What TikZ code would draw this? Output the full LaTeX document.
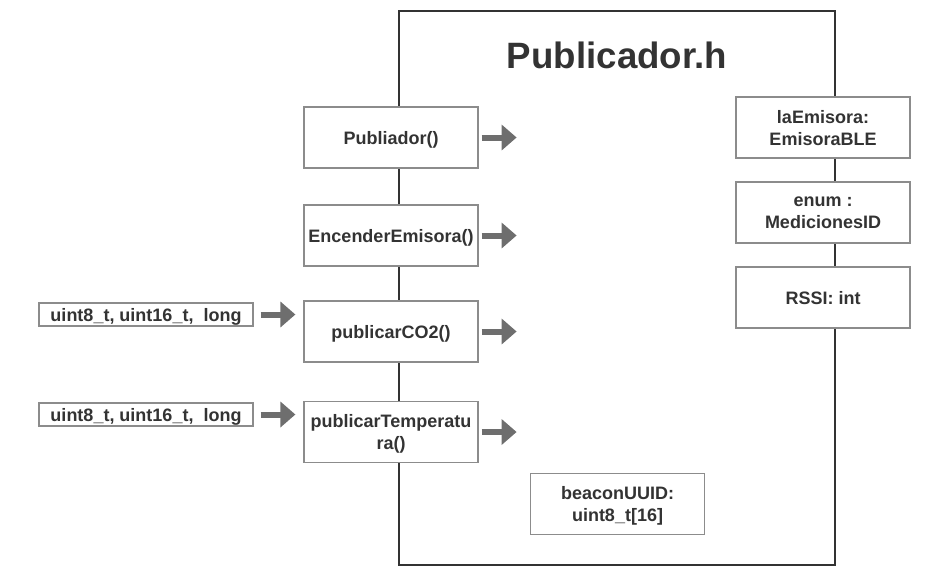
\documentclass[tikz,border=0pt]{standalone}
\usepackage{fontspec}
\setmainfont{Liberation Sans}
\usetikzlibrary{arrows.meta}
\usetikzlibrary{positioning}
\definecolor{txtgray}{HTML}{333333}
\definecolor{boxgray}{HTML}{8C8C8C}
\definecolor{arrowgray}{HTML}{6E6E6E}
\tikzset{membox/.style = {draw=boxgray, line width=0.9pt, fill=white, text=txtgray,
                          minimum width=130.5pt, minimum height=45.75pt, inner sep=0pt,
                          text depth=0pt, align=center,
                          font=\bfseries\fontsize{13.5}{16.5}\selectfont},
         argbox/.style = {membox, minimum width=160.5pt, minimum height=17.25pt},
         blockarrow/.style = {draw=arrowgray, line width=4.5pt,
                              -{Triangle[length=11.25pt, width=18.75pt]}}}

\begin{document}
\begin{tikzpicture}[x=0.75pt, y=-0.75pt]
    \useasboundingbox (0, 0) rectangle (952, 575);
    \draw [line width=1.1pt, draw=txtgray] (399, 11) rectangle (835, 565);
    \node (title) at (617, 55) [text=txtgray, font=\bfseries\fontsize{27.5}{33}\selectfont] {Publicador.h};
    % metodos
    \node (pub) at (391, 137.5) [membox] {Publiador()};
    \node (enc) at (391, 235.5) [membox] {EncenderEmisora()};
    \node (co2) at (391, 331.5) [membox] {publicarCO2()};
    \node (temp) at (391, 432) [membox] {publicarTemperatu\\ra()};
    % atributos
    \node (emisora) at (823, 127.5) [membox] {laEmisora:\\EmisoraBLE};
    \node (medid) at (823, 212.5) [membox] {enum :\\MedicionesID};
    \node (rssi) at (823, 297.5) [membox] {RSSI: int};
    \node (beacon) at (617.5, 504) [membox] {beaconUUID:\\uint8\_t[16]};
    % parametros
    \node (co2in) at (146, 314.5) [argbox] {uint8\_t, uint16\_t,~ long};
    \node (tempin) at (146, 414.5) [argbox] {uint8\_t, uint16\_t,~ long};
    \draw [blockarrow, shorten <=5.25pt, shorten >=6pt] (co2in.east) -- (co2in.east -| co2.west);
    \draw [blockarrow, shorten <=5.25pt, shorten >=6pt] (tempin.east) -- (tempin.east -| temp.west);
    % salidas
    \foreach \m in {pub, enc, co2, temp} {
        \coordinate (\m out) at ([xshift=28.5pt]\m.east);
        \draw [blockarrow, shorten <=2.25pt] (\m.east) -- (\m out);
    }
  \end{tikzpicture}
\end{document}
